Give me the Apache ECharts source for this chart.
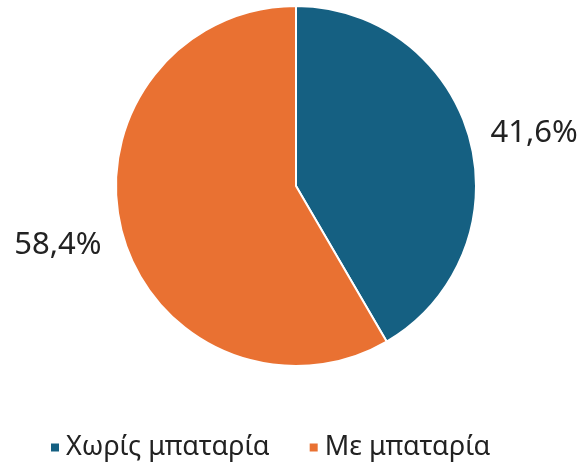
<!DOCTYPE html>
<html>
<head>
<meta charset="utf-8">
<script src="https://cdn.jsdelivr.net/npm/echarts@6/dist/echarts.min.js"></script>
<style>
  html, body { margin: 0; padding: 0; background: #fff; }
  #chart { width: 583px; height: 473px; }
</style>
</head>
<body>
<div id="chart"></div>
<script>
const categories = ['Χωρίς μπαταρία', 'Με μπαταρία'];
const values = [41.6, 58.4];
const colors = ['#156082', '#E97132'];

const myChart = echarts.init(document.getElementById('chart'));

myChart.setOption({
  animation: false,
  color: colors,
  legend: {
    bottom: 7,
    left: 44,
    icon: 'rect',
    itemWidth: 10,
    itemHeight: 10,
    itemGap: 38,
    textStyle: {
      fontFamily: 'Noto Sans',
      fontSize: 27,
      color: '#222',
      padding: [0, 0, 0, 1],
    },
    data: categories,
  },
  series: [
    {
      type: 'pie',
      center: [296, 186],
      radius: 180,
      startAngle: 90,
      clockwise: true,
      itemStyle: { borderColor: '#fff', borderWidth: 2 },
      label: {
        show: true,
        position: 'outside',
        fontFamily: 'Noto Sans',
        fontSize: 31,
        color: '#222',
        overflow: 'none',
        width: 120,
        formatter: (p) => p.value.toFixed(1).replace('.', ',') + '%',
      },
      labelLine: { show: false, length: 10, length2: 6 },
      // small vertical nudge to match the original placement
      labelLayout: (params) => ({ dy: params.dataIndex === 0 ? -3 : 10 }),
      data: categories.map((name, i) => ({ name, value: values[i] })),
    },
  ],
});
</script>
</body>
</html>
